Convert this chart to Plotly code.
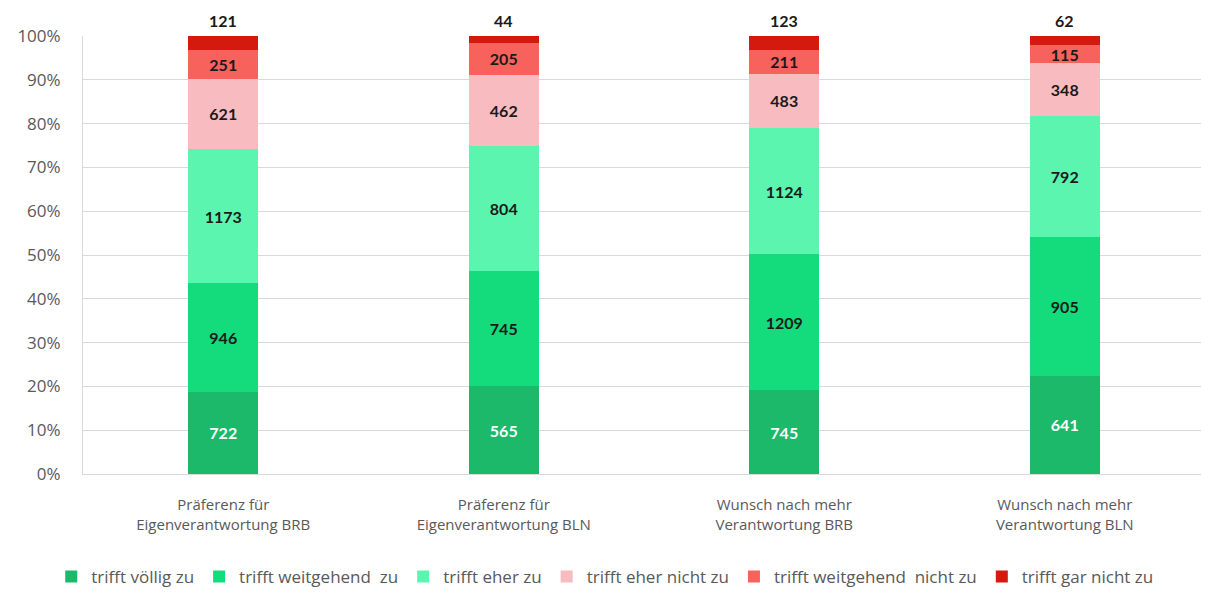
import plotly.graph_objects as go

categories = [
    "Präferenz für<br>Eigenverantwortung BRB",
    "Präferenz für<br>Eigenverantwortung BLN",
    "Wunsch nach mehr<br>Verantwortung BRB",
    "Wunsch nach mehr<br>Verantwortung BLN",
]

voellig = [722, 565, 745, 641]
weitgehend = [946, 745, 1209, 905]
eher = [1173, 804, 1124, 792]
eher_nicht = [621, 462, 483, 348]
weitgehend_nicht = [251, 205, 211, 115]
gar_nicht = [121, 44, 123, 62]

y_ticks = [0, 10, 20, 30, 40, 50, 60, 70, 80, 90, 100]
y_ticktext = [f"{t}%" for t in y_ticks]

series = [
    ("trifft völlig zu", voellig, "#1cb96a", "white"),
    ("trifft weitgehend  zu", weitgehend, "#14dc7c", "#1a1a1a"),
    ("trifft eher zu", eher, "#5bf5b0", "#1a1a1a"),
    ("trifft eher nicht zu", eher_nicht, "#f8bcc0", "#1a1a1a"),
    ("trifft weitgehend  nicht zu", weitgehend_nicht, "#f8625d", "#1a1a1a"),
    ("trifft gar nicht zu", gar_nicht, "#d4190e", "#1a1a1a"),
]

FONT = "'Open Sans', sans-serif"
LABEL_FONT = "Lato, 'Open Sans', sans-serif"
GREY = "#595959"

fig = go.Figure()
for i, (name, vals, color, tcolor) in enumerate(series):
    last = i == len(series) - 1
    fig.add_trace(
        go.Bar(
            x=categories,
            y=vals,
            name=name,
            marker=dict(color=color, line=dict(width=0)),
            text=None if last else [str(v) for v in vals],
            textposition="inside",
            insidetextanchor="middle",
            textangle=0,
            textfont=dict(family=LABEL_FONT, size=16, color=tcolor, weight="bold"),
            hoverinfo="skip",
        )
    )

# counts of the top segment sit above each bar
for cat, v in zip(categories, gar_nicht):
    fig.add_annotation(
        x=cat, y=100, yanchor="bottom", yshift=4, text=str(v), showarrow=False,
        font=dict(family=LABEL_FONT, size=16, color="#1a1a1a", weight="bold"),
    )

# page body has an 8px margin, so the figure is a bit smaller than the window
fig.update_layout(
    barmode="stack",
    barnorm="percent",
    bargap=0.75,
    width=1201,
    height=590,
    margin=dict(l=75, r=4, t=28, b=123),
    plot_bgcolor="white",
    paper_bgcolor="white",
    font=dict(family=FONT, size=14, color=GREY),
    uniformtext=dict(minsize=16, mode="show"),
    showlegend=True,
    legend=dict(
        orientation="h",
        x=0.465,
        xanchor="center",
        y=-0.232,
        yanchor="middle",
        font=dict(family=FONT, size=17, color=GREY),
        itemwidth=30,
        traceorder="normal",
    ),
)
fig.update_yaxes(
    range=[0, 100],
    tickvals=y_ticks,
    ticktext=y_ticktext,
    showgrid=True,
    gridcolor="#d9d9d9",
    gridwidth=1,
    showline=True,
    linecolor="#d9d9d9",
    ticks="",
    zeroline=False,
    automargin=False,
    ticklabelstandoff=18,
    tickfont=dict(family=FONT, size=17, color=GREY),
)
fig.update_xaxes(
    showline=True,
    linecolor="#d9d9d9",
    automargin=False,
    tickfont=dict(family=FONT, size=15, color=GREY),
    ticklabelstandoff=17,
)

fig.write_html("out.html")
